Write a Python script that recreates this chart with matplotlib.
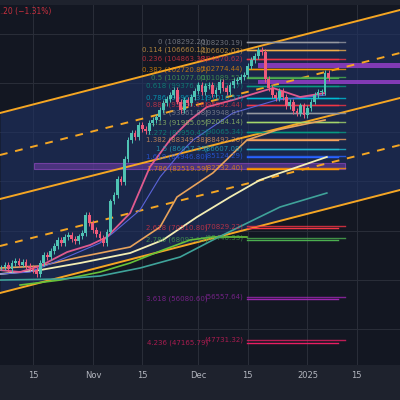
import matplotlib
matplotlib.use("Agg")
import matplotlib.pyplot as plt
import numpy as np

# daily closes (thousand USD), day 0 = Oct 15
closes = [62.5, 63.0, 62.2, 63.4, 63.8, 63.1, 63.6, 62.8, 62.4,
          62.0, 61.2, 63.5, 65.0, 64.6, 65.8, 66.9, 68.1, 67.4, 68.6,
          69.1, 68.3, 67.9, 68.8, 69.5, 73.2, 71.6, 70.1, 69.3, 68.5,
          67.5, 69.8, 75.9, 77.2, 80.5, 79.8, 84.6, 88.4, 89.8, 88.9,
          91.4, 90.6, 90.2, 91.8, 92.5, 93.1, 94.4, 95.9, 96.8, 97.5,
          98.5, 96.2, 94.5, 96.5, 95.8, 97.1, 98.3, 99.6, 98.2, 99.4,
          99.6, 97.8, 98.6, 100.2, 99.0, 98.1, 99.6, 100.3, 100.6, 101.2,
          101.6, 103.5, 104.7, 105.4, 106.7, 106.3, 100.8, 99.0, 97.6, 96.9,
          98.3, 97.1, 95.2, 96.1, 94.3, 93.9, 95.4, 93.5, 94.9, 96.2,
          97.6, 98.1, 98.1, 101.9, 100.9]
first_day = -9

# channels: price at start / end day
chan_days = [-9.4, 104.3]
chan_solid = [[93.87, 114.79], [76.41, 96.92], [57.32, 78.24]]
chan_dash = [[85.34, 106.06], [66.86, 87.37]]

# moving averages (day, price)
ma_pink = ([-9.4, -3.7, 2.0, 9.7, 16.2, 21.0, 27.6, 33.2, 38.9, 44.6, 49.4, 56.8, 68.2, 75.9, 83.0],
           [61.98, 61.57, 62.80, 65.64, 67.06, 68.69, 73.56, 82.90, 88.39, 92.45, 95.09, 96.51, 98.95, 97.12, 97.93])
ma_blue = ([-9.4, -0.9, 9.7, 19.0, 22.7, 30.4, 36.1, 41.8, 45.5, 56.8, 69.3, 83.0],
           [61.17, 61.57, 64.63, 67.47, 69.50, 74.17, 80.87, 85.75, 88.39, 93.87, 96.51, 97.5])
ma_orange = ([-9.4, 2.0, 13.4, 27.6, 36.1, 40.9, 51.1, 60.8, 69.3, 83.0],
             [62.39, 62.80, 64.63, 66.66, 70.72, 76.81, 81.69, 88.39, 90.42, 92.45])
ma_cream = ([-9.4, 2.0, 13.4, 27.6, 36.9, 46.6, 56.0, 64.5, 70.2, 83.5],
            [61.17, 61.98, 63.41, 65.44, 68.08, 72.75, 76.81, 80.27, 81.69, 84.94])
ma_teal = ([-9.4, 7.7, 19.0, 30.4, 41.8, 51.1, 60.8, 70.2, 83.5],
           [59.95, 60.16, 60.77, 62.39, 64.63, 68.08, 71.5, 74.78, 77.62])
ma_green = ([-3.7, 7.7, 19.0, 27.6, 36.9, 44.6, 51.1, 60.8],
            [58.94, 59.95, 61.57, 63.41, 66.05, 68.08, 68.69, 68.69])

# fibonacci levels: ratio, price set 1, price set 2, colour
fib_ratio = ["0", "0.114", "0.236", "0.382", "0.5", "0.618", "0.786", "0.886", "1", "1.13",
             "1.272", "1.382", "1.5", "1.618", "1.786", "2.618", "2.786", "3.618", "4.236"]
fib_p1 = [108292.20, 106660.12, 104863.38, 102720.87, 101077.00, 99376.60, 96962.31, 95530.18,
          93861.88, 91985.05, 89950.42, 88349.38, 86657.35, 84946.80, 82519.59, 70510.80,
          68097.15, 56080.60, 47165.79]
fib_p2 = [108230.19, 106602.03, 104870.62, 102774.44, 101089.52, 99402.17, 97016.57, 95592.44,
          93948.91, 92084.14, 90065.34, 88492.26, 86607.08, 85124.29, 82732.40, 70829.22,
          68440.33, 56557.64, 47731.32]
fib_col = ["#9598a1", "#f0b04a", "#f23645", "#ff9800", "#4caf50", "#089981", "#00bcd4", "#f23645",
           "#9598a1", "#a5d66b", "#089981", "#f7a35c", "#22b8cf", "#2962ff", "#ff9800", "#f23645",
           "#4caf50", "#9c27b0", "#e91e63"]

xtick_days = [0, 17, 31, 47, 61, 78, 92]
xtick_labels = ["15", "Nov", "15", "Dec", "15", "2025", "15"]

fig = plt.figure(figsize=(4, 4), dpi=100, facecolor="#1e222d")
ax = fig.add_axes([0, 0.0875, 1, 0.9])
ax.set_facecolor("#131722")
ax.set_xlim(-9.4, 104.3)
ax.set_ylim(42.7, 115.8)

for d in xtick_days:
    ax.axvline(d, color="#2a2e39", lw=0.7, zorder=0)
for p in [50, 60, 70, 80, 90, 100, 110]:
    ax.axhline(p, color="#2a2e39", lw=0.7, zorder=0)

# channel fill + lines
ax.fill_between(chan_days, chan_solid[0], chan_solid[2], color="#1f3366", alpha=0.6, lw=0, zorder=0.5)
for ys in chan_solid:
    ax.plot(chan_days, ys, color="#f5a623", lw=1.4, zorder=3)
for ys in chan_dash:
    ax.plot(chan_days, ys, color="#f5a623", lw=1.4, ls=(0, (4, 4)), zorder=3)

# purple bands
ax.fill_between([0.3, 88.6], 82.50, 83.72, facecolor="#7b3fb0", edgecolor="#b052e0", alpha=0.5, lw=0.8, zorder=2)
ax.fill_between([63.9, 104.3], 103.01, 104.03, color="#9c3fd0", alpha=0.8, lw=0, zorder=2)
ax.fill_between([63.9, 104.3], 99.76, 100.57, color="#9c3fd0", alpha=0.8, lw=0, zorder=2)

# moving averages
for ma, col, lw in [(ma_green, "#66c23a", 1.2), (ma_teal, "#3fa39a", 1.2), (ma_cream, "#f3eeb4", 1.3),
                    (ma_orange, "#e8a35c", 1.2), (ma_blue, "#5a63d8", 0.8), (ma_pink, "#e05a8f", 1.3)]:
    ax.plot(ma[0], ma[1], color=col, lw=lw, zorder=4)

# fib lines and labels
for r, p1, p2, c in zip(fib_ratio, fib_p1, fib_p2, fib_col):
    ax.plot([60.8, 86.6], [p1 / 1000, p1 / 1000], color=c, lw=1.0, zorder=3)
    ax.plot([60.8, 88.6], [p2 / 1000, p2 / 1000], color=c, lw=1.0, alpha=0.8, zorder=3)
    ax.text(49.7, p1 / 1000, f"{r} ({p1:.2f})", color=c, fontsize=5, ha="right", va="center",
            alpha=0.7, zorder=5)
    ax.text(59.7, p2 / 1000, f"({p2:.2f})", color=c, fontsize=5, ha="right", va="center",
            alpha=0.7, zorder=5)

# candles
opens = [closes[0]] + closes[:-1]
for i, (o, c) in enumerate(zip(opens, closes)):
    d = first_day + i
    col = "#4fc3b4" if c >= o else "#ef5a7a"
    lo, hi = min(o, c), max(o, c)
    ax.vlines(d, lo - 0.6, hi + 0.6, color=col, lw=0.7, zorder=5)
    ax.bar(d, max(hi - lo, 0.15), bottom=lo, width=0.8, color=col, zorder=5)

ax.set_xticks(xtick_days)
ax.set_xticklabels(xtick_labels)
ax.tick_params(axis="x", colors="#b2b5be", labelsize=6, length=0, pad=4)
ax.set_yticks([])
for s in ax.spines.values():
    s.set_visible(False)

fig.text(-0.01, 0.965, "1.20 (\u22121.31%)", color="#f23645", fontsize=5.5, alpha=0.8)

fig.savefig("out.png", dpi=100, facecolor=fig.get_facecolor())
